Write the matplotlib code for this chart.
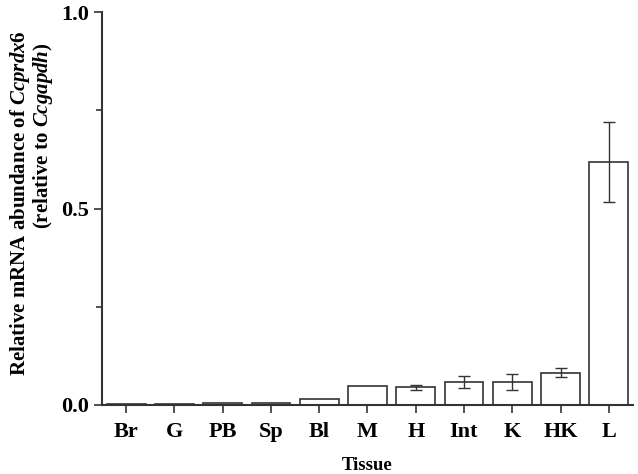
import numpy as np
import matplotlib
matplotlib.use('Agg')
import matplotlib.pyplot as plt
from matplotlib.ticker import MultipleLocator

plt.rcParams['font.family'] = 'Liberation Serif'
plt.rcParams['font.weight'] = 'bold'
plt.rcParams['mathtext.fontset'] = 'custom'
plt.rcParams['mathtext.it'] = 'Liberation Serif:italic:bold'
plt.rcParams['mathtext.rm'] = 'Liberation Serif:bold'

tissues = ['Br', 'G', 'PB', 'Sp', 'Bl', 'M', 'H', 'Int', 'K', 'HK', 'L']
means = [0.002, 0.002, 0.005, 0.005, 0.015, 0.048, 0.045, 0.058, 0.058, 0.082, 0.619]
errs = [0.0, 0.0, 0.0, 0.0, 0.0, 0.0, 0.006, 0.016, 0.021, 0.011, 0.102]

fig = plt.figure(figsize=(6.38, 4.74), dpi=100)
ax = fig.add_axes([0.16, 0.1456, 0.832, 0.829])

x = np.arange(len(tissues))
ax.bar(x, means, width=0.8, color='white', edgecolor='#333333', linewidth=1.2, zorder=2)
ax.errorbar(x[6:], means[6:], yerr=errs[6:], fmt='none', ecolor='#333333',
            elinewidth=1.0, capsize=4, capthick=1.0, zorder=3)

ax.set_xlim(-0.5, 10.5)
ax.set_ylim(0, 1.0)
ax.set_xticks(x)
ax.set_xticklabels(tissues, fontsize=16, fontweight='bold')
ax.yaxis.set_minor_locator(MultipleLocator(0.25))
ax.set_yticks([0.0, 0.5, 1.0])
ax.set_yticklabels(['0.0', '0.5', '1.0'], fontsize=16, fontweight='bold')
ax.tick_params(axis='both', which='major', direction='out', length=6, width=1.2, color='#333333')
ax.tick_params(axis='x', which='major', pad=6)
ax.tick_params(axis='y', which='minor', direction='out', length=4, width=1.2, color='#333333')

for s in ['top', 'right']:
    ax.spines[s].set_visible(False)
for s in ['left', 'bottom']:
    ax.spines[s].set_linewidth(1.5)
    ax.spines[s].set_color('#333333')

ax.set_xlabel('Tissue', fontsize=13.5, fontweight='bold', labelpad=11)

# two-line y label, lines placed separately as in the original
fig.text(0.031, 0.572, 'Relative mRNA abundance of $\\it{Ccprdx6}$',
         rotation=90, ha='center', va='center', fontsize=15, fontweight='bold')
fig.text(0.067, 0.713, '(relative to $\\it{Ccgapdh}$)',
         rotation=90, ha='center', va='center', fontsize=15, fontweight='bold')

fig.savefig('out.png', dpi=100)
